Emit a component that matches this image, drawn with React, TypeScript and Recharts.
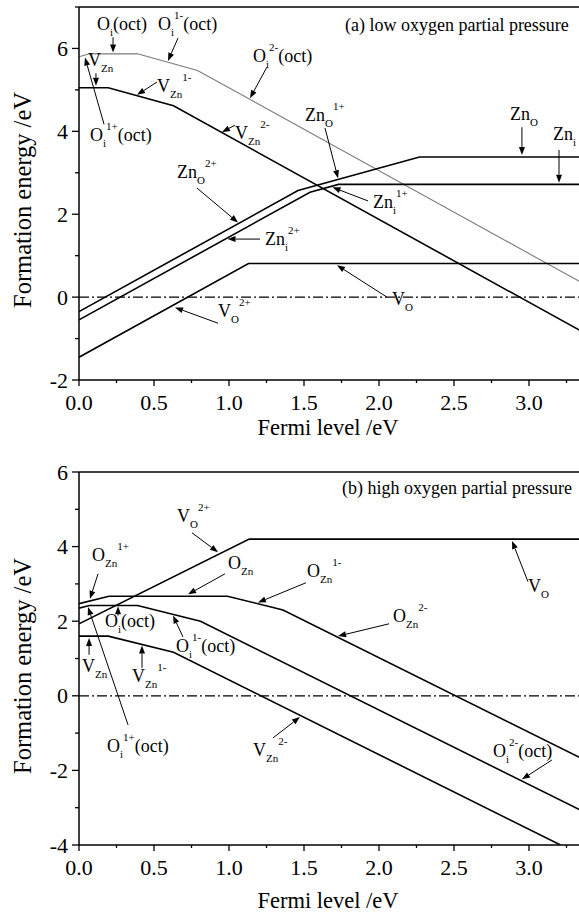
import { LineChart, Line, XAxis, YAxis, ReferenceLine, ReferenceDot, Label } from 'recharts';

const FONT = '"Liberation Serif", "Times New Roman", Times, serif';

const xTicks = [0, 0.25, 0.5, 0.75, 1, 1.25, 1.5, 1.75, 2, 2.25, 2.5, 2.75, 3, 3.25];
const aYTicks = [-2, -1, 0, 1, 2, 3, 4, 5, 6, 7];
const bYTicks = [-4, -3, -2, -1, 0, 1, 2, 3, 4, 5, 6];

// (a) low oxygen partial pressure
const aOi = [
  { x: 0, y: 5.8 },
  { x: 0.07, y: 5.87 },
  { x: 0.39, y: 5.87 },
  { x: 0.79, y: 5.47 },
  { x: 3.4, y: 0.25 },
];
const aVZn = [
  { x: 0, y: 5.05 },
  { x: 0.195, y: 5.05 },
  { x: 0.63, y: 4.615 },
  { x: 3.4, y: -0.925 },
];
const aZnO = [
  { x: 0, y: -0.35 },
  { x: 1.46, y: 2.57 },
  { x: 2.27, y: 3.38 },
  { x: 3.4, y: 3.38 },
];
const aZni = [
  { x: 0, y: -0.55 },
  { x: 1.54, y: 2.53 },
  { x: 1.73, y: 2.72 },
  { x: 3.4, y: 2.72 },
];
const aVO = [
  { x: 0, y: -1.45 },
  { x: 1.13, y: 0.81 },
  { x: 3.4, y: 0.81 },
];

// (b) high oxygen partial pressure
const bVO = [
  { x: 0, y: 1.93 },
  { x: 1.135, y: 4.2 },
  { x: 3.4, y: 4.2 },
];
const bOZn = [
  { x: 0, y: 2.47 },
  { x: 0.2, y: 2.67 },
  { x: 0.99, y: 2.67 },
  { x: 1.36, y: 2.3 },
  { x: 3.4, y: -1.78 },
];
const bOi = [
  { x: 0, y: 2.35 },
  { x: 0.07, y: 2.42 },
  { x: 0.39, y: 2.42 },
  { x: 0.81, y: 2.0 },
  { x: 3.4, y: -3.18 },
];
const bVZn = [
  { x: 0, y: 1.6 },
  { x: 0.195, y: 1.6 },
  { x: 0.63, y: 1.165 },
  { x: 3.21, y: -4 },
];

// label text pieces: n = normal, b = subscript, p = superscript
const aNotes = [
  { x: 0.12, y: 6.44, t: [['O', 'n'], ['i', 'b'], ['(oct)', 'n']], arrow: [0.227, 6.27, 0.227, 5.9] },
  { x: 0.527, y: 6.44, t: [['O', 'n'], ['i', 'b'], ['1-', 'p'], ['(oct)', 'n']], arrow: [0.66, 6.25, 0.593, 5.7] },
  { x: 1.16, y: 5.67, t: [['O', 'n'], ['i', 'b'], ['2-', 'p'], ['(oct)', 'n']], arrow: [1.253, 5.55, 1.14, 4.8] },
  { x: 0.06, y: 5.57, t: [['V', 'n'], ['Zn', 'b']], arrow: [0.113, 5.4, 0.113, 5.1] },
  { x: 0.073, y: 3.76, t: [['O', 'n'], ['i', 'b'], ['1+', 'p'], ['(oct)', 'n']], arrow: [0.167, 4.17, 0.04, 5.78] },
  { x: 0.52, y: 4.95, t: [['V', 'n'], ['Zn', 'b'], ['1-', 'p']], arrow: [0.52, 5.19, 0.387, 4.88] },
  { x: 1.04, y: 3.81, t: [['V', 'n'], ['Zn', 'b'], ['2-', 'p']], arrow: [1.04, 4.15, 0.953, 3.98] },
  { x: 0.653, y: 2.87, t: [['Zn', 'n'], ['O', 'b'], ['2+', 'p']], arrow: [0.787, 2.63, 1.06, 1.8] },
  { x: 1.24, y: 1.25, t: [['Zn', 'n'], ['i', 'b'], ['2+', 'p']], arrow: [1.207, 1.4, 0.99, 1.4] },
  { x: 0.927, y: -0.48, t: [['V', 'n'], ['O', 'b'], ['2+', 'p']], arrow: [0.927, -0.63, 0.64, -0.25] },
  { x: 1.96, y: 2.15, t: [['Zn', 'n'], ['i', 'b'], ['1+', 'p']], arrow: [1.927, 2.32, 1.69, 2.65] },
  { x: 2.087, y: -0.19, t: [['V', 'n'], ['O', 'b']], arrow: [2.053, 0, 1.72, 0.77] },
  { x: 1.507, y: 4.25, t: [['Zn', 'n'], ['O', 'b'], ['1+', 'p']], arrow: [1.64, 4.08, 1.727, 2.87] },
  { x: 2.873, y: 4.27, t: [['Zn', 'n'], ['O', 'b']], arrow: [2.953, 4.1, 2.953, 3.43] },
  { x: 3.16, y: 3.79, t: [['Zn', 'n'], ['i', 'b']], arrow: [3.2, 3.55, 3.2, 2.76] },
  { x: 1.773, y: 6.42, t: [['(a) low oxygen partial pressure', 'n']] },
];

const bNotes = [
  { x: 0.653, y: 4.66, t: [['V', 'n'], ['O', 'b'], ['2+', 'p']], arrow: [0.753, 4.37, 0.927, 3.85] },
  { x: 0.087, y: 3.62, t: [['O', 'n'], ['Zn', 'b'], ['1+', 'p']], arrow: [0.127, 3.27, 0.073, 2.6] },
  { x: 0.993, y: 3.4, t: [['O', 'n'], ['Zn', 'b']], arrow: [0.973, 3.27, 0.727, 2.72] },
  { x: 1.52, y: 3.19, t: [['O', 'n'], ['Zn', 'b'], ['1-', 'p']], arrow: [1.513, 3.03, 1.193, 2.5] },
  { x: 2.093, y: 1.98, t: [['O', 'n'], ['Zn', 'b'], ['2-', 'p']], arrow: [2.067, 1.93, 1.727, 1.6] },
  { x: 2.993, y: 2.79, t: [['V', 'n'], ['O', 'b']], arrow: [2.993, 3.06, 2.887, 4.15] },
  { x: 0.173, y: 1.85, t: [['O', 'n'], ['i', 'b'], ['(oct)', 'n']], arrow: [0.26, 2.15, 0.26, 2.4] },
  { x: 0.647, y: 1.18, t: [['O', 'n'], ['i', 'b'], ['1-', 'p'], ['(oct)', 'n']], arrow: [0.693, 1.58, 0.627, 2.15] },
  { x: 0.187, y: -1.5, t: [['O', 'n'], ['i', 'b'], ['1+', 'p'], ['(oct)', 'n']], arrow: [0.327, -0.78, 0.06, 2.38] },
  { x: 0.02, y: 0.64, t: [['V', 'n'], ['Zn', 'b']], arrow: [0.067, 1.1, 0.067, 1.55] },
  { x: 0.353, y: 0.375, t: [['V', 'n'], ['Zn', 'b'], ['1-', 'p']], arrow: [0.42, 0.75, 0.42, 1.35] },
  { x: 1.16, y: -1.61, t: [['V', 'n'], ['Zn', 'b'], ['2-', 'p']], arrow: [1.293, -1.13, 1.473, -0.57] },
  { x: 2.76, y: -1.64, t: [['O', 'n'], ['i', 'b'], ['2-', 'p'], ['(oct)', 'n']], arrow: [3.153, -1.72, 2.953, -2.24] },
  { x: 1.753, y: 5.42, t: [['(b) high oxygen partial pressure', 'n']] },
];

function Rich({ x, y, segs }: any) {
  let cur = 0;
  return (
    <text x={x} y={y} fontSize={18} fontFamily={FONT} fill="#000">
      {segs.map(([s, k]: string[], i: number) => {
        const off = k === 'b' ? 6 : k === 'p' ? -11 : 0;
        const dy = off - cur;
        cur = off;
        return (
          <tspan key={i} dy={dy} fontSize={k === 'n' ? 18 : 11}>
            {s}
          </tspan>
        );
      })}
    </text>
  );
}

function arrowShape(p: any) {
  const { x1, y1, x2, y2 } = p;
  const a = Math.atan2(y2 - y1, x2 - x1);
  const L = 8;
  const W = 3;
  const bx = x2 - L * Math.cos(a);
  const by = y2 - L * Math.sin(a);
  const pts = `${x2},${y2} ${bx - W * Math.sin(a)},${by + W * Math.cos(a)} ${bx + W * Math.sin(a)},${by - W * Math.cos(a)}`;
  return (
    <g>
      <line x1={x1} y1={y1} x2={bx} y2={by} stroke="#000" strokeWidth={1} />
      <polygon points={pts} fill="#000" />
    </g>
  );
}

function XTick({ x, y, payload }: any) {
  const v = payload.value;
  const major = Math.abs(v * 2 - Math.round(v * 2)) < 1e-6;
  return (
    <g>
      <line x1={x} y1={y} x2={x} y2={y + (major ? 6 : 3)} stroke="#000" strokeWidth={1.3} />
      {major && (
        <text x={x} y={y + 30} textAnchor="middle" fontSize={22} fontFamily={FONT} fill="#000">
          {v.toFixed(1)}
        </text>
      )}
    </g>
  );
}

function YTick({ x, y, payload }: any) {
  const v = payload.value;
  const major = v % 2 === 0;
  return (
    <g>
      <line x1={x - (major ? 7 : 4)} y1={y} x2={x} y2={y} stroke="#000" strokeWidth={1.3} />
      {major && (
        <text x={x - 11} y={y + 7.5} textAnchor="end" fontSize={22} fontFamily={FONT} fill="#000">
          {String(v)}
        </text>
      )}
    </g>
  );
}

function Panel({ height, marginTop, xAxisHeight, yDomain, yTicks, series, notes, xTitleY, yTitleY }: any) {
  return (
    <LineChart width={620} height={height} margin={{ top: marginTop, right: 31, bottom: 0, left: 0 }}>
      <XAxis
        type="number"
        dataKey="x"
        domain={[0, 3.4]}
        ticks={xTicks}
        interval={0}
        tickSize={0}
        tickMargin={0}
        height={xAxisHeight}
        allowDataOverflow
        axisLine={{ stroke: '#000', strokeWidth: 1.5 }}
        tick={(p: any) => <XTick {...p} />}
      >
        <Label
          content={() => (
            <text x={328} y={xTitleY} textAnchor="middle" fontSize={22.5} fontFamily={FONT} fill="#000">
              Fermi level /eV
            </text>
          )}
        />
      </XAxis>
      <YAxis
        type="number"
        domain={yDomain}
        ticks={yTicks}
        interval={0}
        tickSize={0}
        tickMargin={0}
        width={79}
        allowDataOverflow
        axisLine={{ stroke: '#000', strokeWidth: 1.5 }}
        tick={(p: any) => <YTick {...p} />}
      >
        <Label
          content={() => (
            <text
              x={31}
              y={yTitleY}
              transform={`rotate(-90, 31, ${yTitleY})`}
              textAnchor="middle"
              fontSize={24.5}
              fontFamily={FONT}
              fill="#000"
            >
              Formation energy /eV
            </text>
          )}
        />
      </YAxis>
      <ReferenceLine y={yDomain[1]} stroke="#000" strokeWidth={1.5} />
      <ReferenceLine y={0} stroke="#000" strokeWidth={1.2} strokeDasharray="10 3 2 3" />
      {series.map((s: any) => (
        <Line
          key={s.name}
          name={s.name}
          data={s.data}
          dataKey="y"
          type="linear"
          stroke={s.stroke}
          strokeWidth={s.width}
          dot={false}
          activeDot={false}
          isAnimationActive={false}
        />
      ))}
      {notes.map((n: any, i: number) =>
        n.arrow ? (
          <ReferenceLine
            key={'ar' + i}
            segment={[
              { x: n.arrow[0], y: n.arrow[1] },
              { x: n.arrow[2], y: n.arrow[3] },
            ]}
            shape={arrowShape}
          />
        ) : null
      )}
      {notes.map((n: any, i: number) => (
        <ReferenceDot
          key={'tx' + i}
          x={n.x}
          y={n.y}
          r={0}
          shape={(p: any) => <Rich x={p.cx} y={p.cy} segs={n.t} />}
        />
      ))}
    </LineChart>
  );
}

export default function App() {
  const aSeries = [
    { name: 'Oi', data: aOi, stroke: '#7a7a7a', width: 1.1 },
    { name: 'VZn', data: aVZn, stroke: '#000', width: 1.6 },
    { name: 'ZnO', data: aZnO, stroke: '#000', width: 1.6 },
    { name: 'Zni', data: aZni, stroke: '#000', width: 1.6 },
    { name: 'VO', data: aVO, stroke: '#000', width: 1.6 },
  ];
  const bSeries = [
    { name: 'VO', data: bVO, stroke: '#000', width: 1.6 },
    { name: 'OZn', data: bOZn, stroke: '#000', width: 1.6 },
    { name: 'Oi', data: bOi, stroke: '#000', width: 1.6 },
    { name: 'VZn', data: bVZn, stroke: '#000', width: 1.6 },
  ];
  return (
    <div
      style={{
        position: 'absolute',
        left: 0,
        top: 0,
        width: 579,
        height: 914,
        overflow: 'hidden',
        background: '#fff',
      }}
    >
      <div style={{ position: 'absolute', left: 0, top: 0 }}>
        <Panel
          height={440}
          marginTop={7}
          xAxisHeight={60}
          yDomain={[-2, 7]}
          yTicks={aYTicks}
          series={aSeries}
          notes={aNotes}
          xTitleY={435}
          yTitleY={200}
        />
      </div>
      <div style={{ position: 'absolute', left: 0, top: 440 }}>
        <Panel
          height={474}
          marginTop={32}
          xAxisHeight={69}
          yDomain={[-4, 6]}
          yTicks={bYTicks}
          series={bSeries}
          notes={bNotes}
          xTitleY={468}
          yTitleY={226}
        />
      </div>
    </div>
  );
}
